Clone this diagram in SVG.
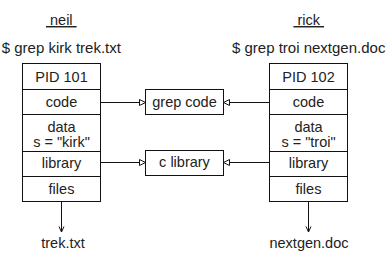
<svg xmlns="http://www.w3.org/2000/svg" width="388" height="254" viewBox="0 0 388 254">
  <style>
    text { font-family: "Liberation Sans", Arial, sans-serif; font-size: 14.5px; fill: #222; text-anchor: middle; }
    .cmd { font-size: 15px; }
    .user { text-decoration: underline; }
    .box { fill: #fff; stroke: #111; stroke-width: 1; }
    .sep { stroke: #111; stroke-width: 1; }
    .conn { stroke: #111; stroke-width: 1; fill: none; }
  </style>
  <defs>
    <marker id="openTri" markerUnits="userSpaceOnUse" markerWidth="8" markerHeight="8" refX="6.5" refY="3.5" orient="auto">
      <path d="M0.5,0.5 L6.5,3.5 L0.5,6.5 Z" fill="#fff" stroke="#111" stroke-width="1"/>
    </marker>
    <marker id="vee" markerUnits="userSpaceOnUse" markerWidth="8" markerHeight="8" refX="6" refY="3" orient="auto">
      <path d="M0.5,0.5 L6,3 L0.5,5.5" fill="none" stroke="#111" stroke-width="1"/>
    </marker>
  </defs>

  <!-- process 101 -->
  <g id="proc-neil">
    <text class="user" x="61.3" y="25" xml:space="preserve"> neil </text>
    <text class="cmd" x="61.3" y="52.5">$ grep kirk trek.txt</text>
    <rect class="box" x="22.5" y="63.5" width="78" height="138"/>
    <line class="sep" x1="22.5" y1="89.5" x2="100.5" y2="89.5"/>
    <line class="sep" x1="22.5" y1="114.5" x2="100.5" y2="114.5"/>
    <line class="sep" x1="22.5" y1="151.5" x2="100.5" y2="151.5"/>
    <line class="sep" x1="22.5" y1="176.5" x2="100.5" y2="176.5"/>
    <text x="61.5" y="81.7">PID 101</text>
    <text x="61.5" y="107.3">code</text>
    <text x="61.5" y="131.7">data</text>
    <text x="61.5" y="146.7">s = "kirk"</text>
    <text x="61.5" y="168.3">library</text>
    <text x="61.5" y="194">files</text>
  </g>

  <!-- process 102 -->
  <g id="proc-rick">
    <text class="user" x="308.7" y="25" xml:space="preserve"> rick </text>
    <text class="cmd" x="308.7" y="52.5">$ grep troi nextgen.doc</text>
    <rect class="box" x="269.5" y="63.5" width="78" height="138"/>
    <line class="sep" x1="269.5" y1="89.5" x2="347.5" y2="89.5"/>
    <line class="sep" x1="269.5" y1="114.5" x2="347.5" y2="114.5"/>
    <line class="sep" x1="269.5" y1="151.5" x2="347.5" y2="151.5"/>
    <line class="sep" x1="269.5" y1="176.5" x2="347.5" y2="176.5"/>
    <text x="308.5" y="81.7">PID 102</text>
    <text x="308.5" y="107.3">code</text>
    <text x="308.5" y="131.7">data</text>
    <text x="308.5" y="146.7">s = "troi"</text>
    <text x="308.5" y="168.3">library</text>
    <text x="308.5" y="194">files</text>
  </g>

  <!-- shared segments -->
  <g id="grep-code">
    <rect class="box" x="145.5" y="89.5" width="78" height="25"/>
    <text x="184.5" y="107.3">grep code</text>
  </g>
  <g id="c-library">
    <rect class="box" x="145.5" y="150.5" width="78" height="25"/>
    <text x="184.5" y="167.3">c library</text>
  </g>

  <!-- files -->
  <g id="file-trek">
    <text x="63" y="248.3">trek.txt</text>
  </g>
  <g id="file-nextgen">
    <text x="309" y="248.3">nextgen.doc</text>
  </g>

  <g id="connectors">
    <line class="conn" x1="100.5" y1="102.5" x2="145.5" y2="102.5" marker-end="url(#openTri)"/>
    <line class="conn" x1="269.5" y1="102.5" x2="223.5" y2="102.5" marker-end="url(#openTri)"/>
    <line class="conn" x1="100.5" y1="162.5" x2="145.5" y2="162.5" marker-end="url(#openTri)"/>
    <line class="conn" x1="269.5" y1="162.5" x2="223.5" y2="162.5" marker-end="url(#openTri)"/>
    <line class="conn" x1="61.5" y1="201.5" x2="61.5" y2="232" marker-end="url(#vee)"/>
    <line class="conn" x1="308.5" y1="201.5" x2="308.5" y2="232" marker-end="url(#vee)"/>
  </g>
</svg>
